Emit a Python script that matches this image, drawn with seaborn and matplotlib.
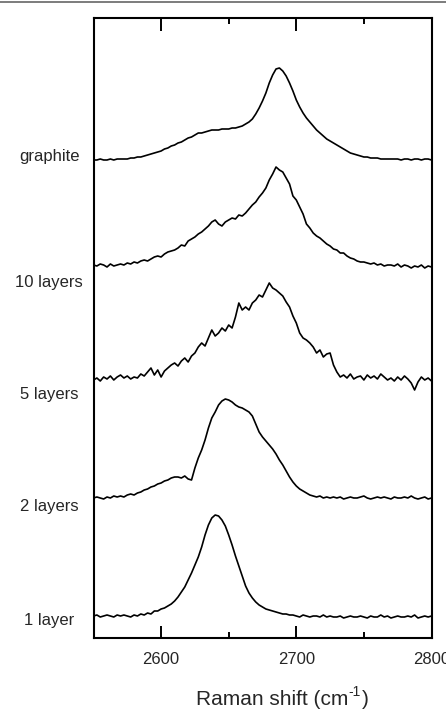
import numpy as np
import pandas as pd
import matplotlib
matplotlib.use('Agg')
import matplotlib.pyplot as plt
from matplotlib.lines import Line2D
import seaborn as sns

# Raman shift axis (cm-1), 2.5 cm-1 steps
shift = np.arange(2550, 2800.1, 2.5)

samples = ['graphite', '10 layers', '5 layers', '2 layers', '1 layer']
# vertical offsets of the stacked spectra
offsets = [478, 372, 258, 140, 21]
label_y = [481, 355, 243, 131, 17]

graphite = [0, 0, 1, 0, 0, 1, 0, 1,
            1, 1, 1, 2, 2, 3, 3, 4,
            5, 6, 7, 8, 9, 11, 12, 14,
            15, 17, 18, 20, 22, 23, 25, 27,
            27, 28, 29, 30, 30, 30, 31, 31,
            31, 32, 32, 33, 34, 36, 38, 41,
            46, 52, 59, 67, 77, 85, 91, 92,
            89, 84, 77, 69, 60, 53, 47, 42,
            38, 34, 30, 27, 24, 21, 19, 17,
            15, 13, 11, 9, 7, 6, 5, 4,
            3, 3, 2, 2, 2, 1, 1, 1,
            1, 1, 1, 0, 1, 1, 0, 1,
            1, 0, 1, 1, 0]

layers10 = [1, 0, 2, 1, -1, 2, 0, 1,
            2, 1, 3, 2, 4, 3, 5, 6,
            5, 7, 9, 10, 9, 12, 14, 15,
            16, 18, 21, 20, 25, 27, 29, 32,
            34, 37, 40, 44, 46, 42, 40, 44,
            46, 48, 47, 51, 50, 53, 57, 61,
            64, 69, 73, 78, 86, 92, 99, 96,
            94, 88, 82, 70, 66, 59, 52, 42,
            38, 33, 30, 28, 25, 22, 20, 17,
            16, 13, 13, 10, 8, 7, 5, 4,
            4, 3, 2, 3, 1, 2, 0, 1,
            1, 0, 2, -1, 1, 0, -2, 0,
            -1, 1, -2, 0, -1]

layers5 = [0, 2, -1, 3, 1, 4, 0, 3,
           5, 2, 4, 1, 3, 2, 6, 4,
           8, 12, 5, 10, 3, 9, 12, 15,
           17, 14, 19, 22, 18, 24, 27, 33,
           37, 34, 42, 50, 44, 47, 52, 49,
           55, 52, 63, 77, 70, 73, 70, 77,
           80, 85, 83, 90, 97, 92, 90, 87,
           84, 78, 73, 64, 57, 47, 42, 40,
           37, 33, 27, 30, 23, 26, 27, 15,
           8, 3, 5, 2, 6, 1, 3, 4,
           0, 5, 2, 4, 1, 6, 3, 0,
           2, -1, 3, 0, 4, 1, -3, -10,
           -2, 3, 0, 2, -1]

layers2 = [0, 1, 0, -1, 1, 0, 2, 1,
           2, 1, 3, 4, 3, 5, 6, 8,
           9, 11, 12, 14, 15, 17, 18, 20,
           21, 21, 20, 22, 19, 18, 30, 40,
           48, 58, 70, 80, 86, 93, 97, 99,
           98, 96, 93, 91, 90, 88, 86, 82,
           74, 66, 61, 57, 53, 49, 44, 38,
           33, 27, 21, 16, 12, 9, 7, 5,
           3, 2, 1, 2, 0, 1, 0, 1,
           0, 1, -1, 0, 1, 0, 0, 1, 2, 0,
           -1, 0, 1, 0, 1, 0, -1, 1, 0, 0,
           1, 0, 2, 0, -1, 0, 1, -1, 0]

layer1 = [1, 2, 0, 1, 2, 1, 0, 2, 1, 2, 1, 0, 2, 1, 3, 2,
          4, 3, 6, 6,
          8, 9, 11, 13, 16, 20, 25, 30,
          37, 44, 52, 60, 70, 82, 92, 99,
          102, 101, 97, 91, 82, 72, 61, 51,
          41, 31, 24, 19, 15, 12, 10, 8,
          7, 6, 5, 4, 3, 3, 2, 2,
          1, 0, 2, 1, 0, 1, 1, 0, 2, 0,
          1, 0, 0, 1, -1, 0, 1, 0, 0, 1,
          0, -1, 1, 0, 0, 2, 0, 1, -1, 0,
          1, 0, 0, 1, 0, 2, -1, 0, 1, 0,
          1]

spectra = [graphite, layers10, layers5, layers2, layer1]

frames = []
for name, off, y in zip(samples, offsets, spectra):
    frames.append(pd.DataFrame({'shift': shift,
                                'intensity': np.array(y) + off,
                                'sample': name}))
df = pd.concat(frames, ignore_index=True)

sns.set_style('ticks')
plt.rcParams['font.family'] = ['Liberation Sans', 'DejaVu Sans']

fig = plt.figure(figsize=(4.46, 7.10), dpi=100)
ax = fig.add_axes([93.5 / 446, 72 / 710, 338 / 446, 620 / 710])

sns.lineplot(data=df, x='shift', y='intensity', hue='sample',
             palette={s: 'black' for s in samples}, legend=False,
             linewidth=1.2, estimator=None, sort=False, ax=ax)

ax.set_xlim(2550, 2800)
ax.set_ylim(0, 620)
ax.set_xticks([2600, 2700, 2800])
ax.set_xticks([2650, 2750], minor=True)
ax.set_yticks([])
ax.tick_params(axis='x', which='both', direction='in', top=True,
               bottom=True, labelsize=12, pad=10, width=1.4, color='black')
ax.tick_params(axis='x', which='major', length=9)
ax.tick_params(axis='x', which='minor', length=4.5)
ax.set_xlabel('')
ax.set_ylabel('')
for sp in ax.spines.values():
    sp.set_linewidth(1.5)
    sp.set_color('black')

for name, ly in zip(samples, label_y):
    ax.text(-0.131, ly, name, transform=ax.get_yaxis_transform(),
            ha='center', va='center', fontsize=12)

# x label with a plain "-1" superscript
t1 = fig.text(196 / 446, 1 - 709 / 710, 'Raman shift (cm',
              ha='left', va='bottom', fontsize=15)
t2 = ax.annotate('-1', xy=(1, 0), xycoords=t1, xytext=(0.3, 7),
                 textcoords='offset points', ha='left', va='bottom',
                 fontsize=10, annotation_clip=False)
t3 = ax.annotate(')', xy=(1, 0), xycoords=t2, xytext=(0.3, -7),
                 textcoords='offset points', ha='left', va='bottom',
                 fontsize=15, annotation_clip=False)

fig.add_artist(Line2D([0, 1], [1 - 1.7 / 710, 1 - 1.7 / 710],
                      color='#666666', lw=1.2))

fig.savefig('out.png', dpi=100)
